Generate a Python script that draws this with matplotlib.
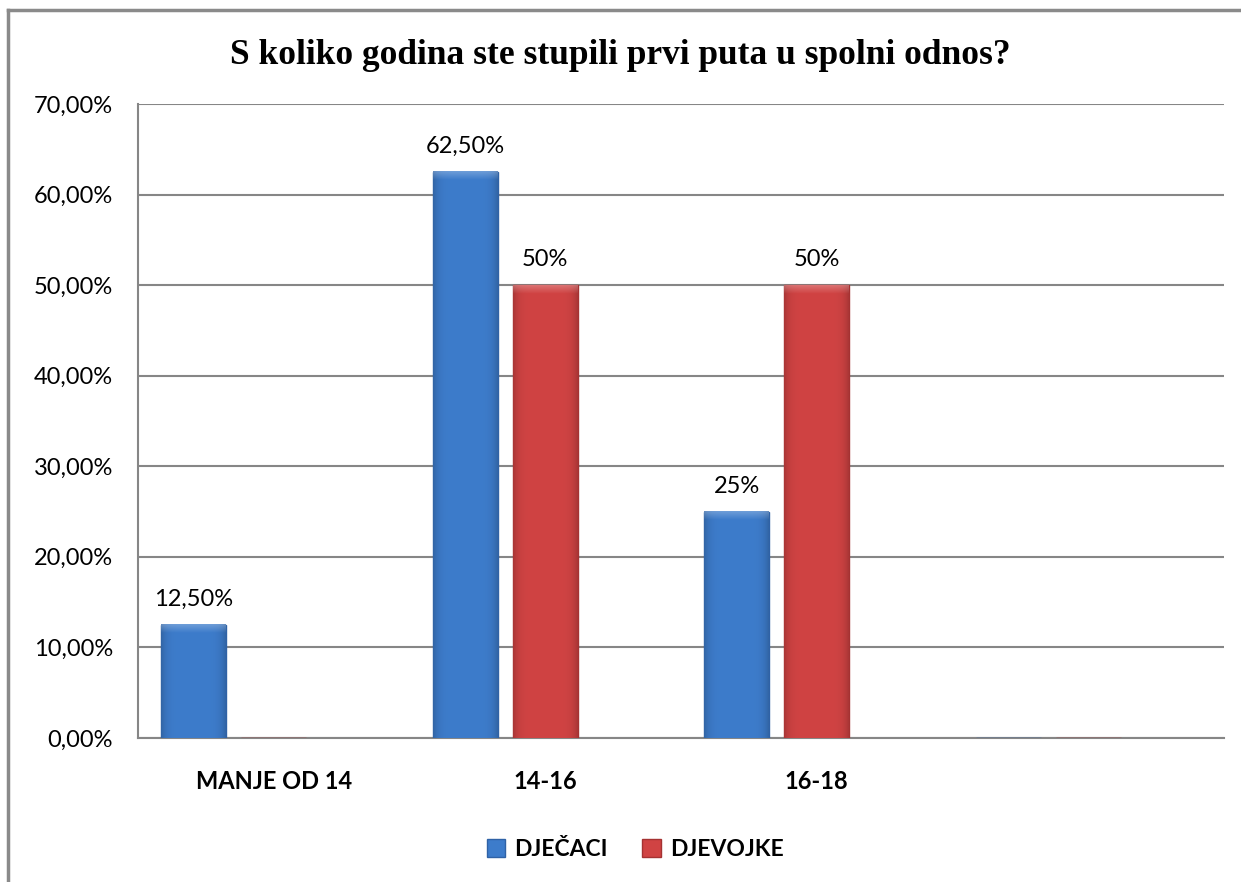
import matplotlib.pyplot as plt
import numpy as np
from matplotlib.colors import to_rgb
from matplotlib.lines import Line2D
from matplotlib.patches import Patch

title = 'S koliko godina ste stupili prvi puta u spolni odnos?'
categories = ['MANJE OD 14', '14-16', '16-18', '']
djecaci = [12.5, 62.5, 25, 0]
djevojke = [0, 50, 50, 0]
treca = [0, 0, 0, 0]  # empty third series (keeps the spacing of the original)
djecaci_labels = ['12,50%', '62,50%', '25%', '']
djevojke_labels = ['', '50%', '50%', '']
yticks = [0, 10, 20, 30, 40, 50, 60, 70]
ytick_labels = ['0,00%', '10,00%', '20,00%', '30,00%', '40,00%', '50,00%', '60,00%', '70,00%']

blue = '#3d7ccb'
red = '#d04343'
grid_col = '#868686'

plt.rcParams['font.family'] = ['Lato', 'DejaVu Sans']

fig = plt.figure(figsize=(12.41, 8.82), dpi=100)
ax = fig.add_axes([0.1112, 0.1633, 0.8751, 0.7188])

x = np.arange(len(categories))
w = 0.2394
step = 0.2947

b1 = ax.bar(x - step, djecaci, w, color=blue, edgecolor='#2f62a6', linewidth=1, zorder=3)
b2 = ax.bar(x, djevojke, w, color=red, edgecolor='#a53232', linewidth=1, zorder=3)
ax.bar(x + step, treca, w, color='none', zorder=3)


def bevel(rect, color):
    # soft shading so the bars look a bit like the bevelled Office ones
    h = rect.get_height()
    if h <= 0:
        return
    rows = max(int(h * 10), 2)
    cols = 60
    base = np.array(to_rgb(color))
    xx = np.linspace(-1, 1, cols)
    side = 1 - 0.18 * np.abs(xx) ** 6
    img = np.ones((rows, cols, 3)) * base * side[None, :, None]
    top = int(min(9, rows * 0.5))
    for r in range(top):
        t = 1 - r / top
        img[r] = img[r] + (1 - img[r]) * 0.25 * t
    img = np.clip(img, 0, 1)
    x0 = rect.get_x()
    ax.imshow(img, extent=[x0, x0 + rect.get_width(), 0, h], aspect='auto',
              interpolation='bilinear', zorder=3.5)


for rect in b1:
    bevel(rect, blue)
for rect in b2:
    bevel(rect, red)

for bars, labels in [(b1, djecaci_labels), (b2, djevojke_labels)]:
    for rect, lab in zip(bars, labels):
        if lab:
            ax.text(rect.get_x() + rect.get_width() / 2, rect.get_height() + 1.65, lab,
                    ha='center', va='bottom', fontsize=17, color='black')

ax.set_xlim(-0.5, len(categories) - 0.5)
ax.set_ylim(0, 70)
ax.set_yticks(yticks)
ax.set_yticklabels(ytick_labels, fontsize=17)
ax.set_xticks(x)
ax.set_xticklabels(categories, fontsize=17, fontweight='bold')
ax.tick_params(axis='both', length=0)
ax.tick_params(axis='y', pad=18)
ax.tick_params(axis='x', pad=23)

ax.grid(axis='y', color=grid_col, linewidth=1.5, zorder=0)
for s in ['top', 'right']:
    ax.spines[s].set_visible(False)
for s in ['left', 'bottom']:
    ax.spines[s].set_color(grid_col)
    ax.spines[s].set_linewidth(1.5)

fig.text(0.5, 0.937, title, ha='center', va='center', fontsize=25.5, fontweight='bold',
         family='Liberation Serif')

handles = [Patch(facecolor=blue, edgecolor='#2f62a6'), Patch(facecolor=red, edgecolor='#a53232')]
fig.legend(handles, ['DJEČACI', 'DJEVOJKE'], loc='center', bbox_to_anchor=(0.512, 0.037),
           ncol=2, frameon=False, prop={'size': 16.5, 'weight': 'bold'},
           handlelength=0.8, handleheight=0.8, handletextpad=0.4, columnspacing=1.5)

# outer chart frame (cut off at right and bottom)
fig.add_artist(Line2D([8 / 1241, 8 / 1241], [0, 1 - 10 / 882], color='#8a8a8a', linewidth=2.5))
fig.add_artist(Line2D([8 / 1241, 1], [1 - 10 / 882, 1 - 10 / 882], color='#8a8a8a', linewidth=2.5))

fig.savefig('out.png', dpi=100)
